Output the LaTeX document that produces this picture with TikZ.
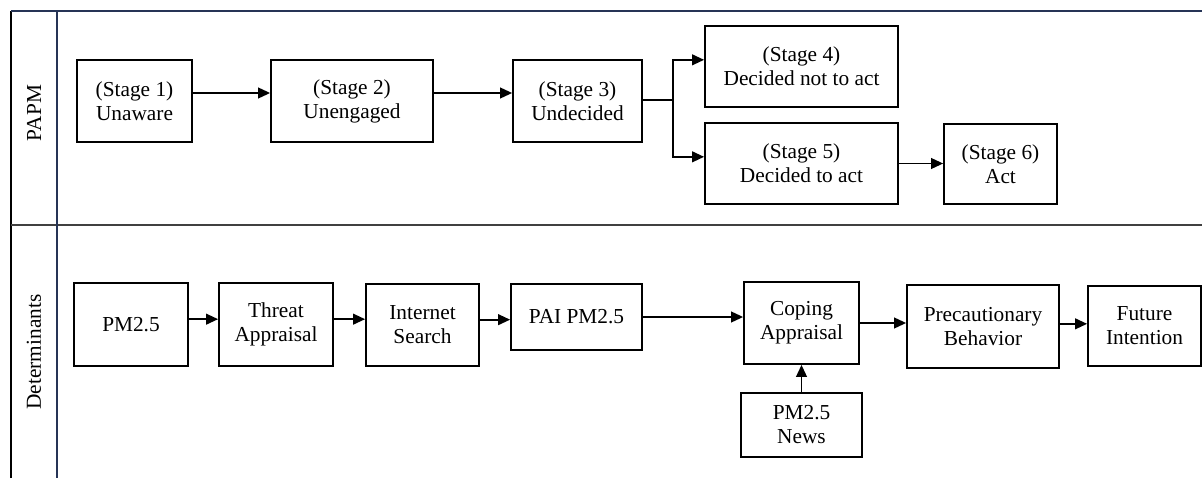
\documentclass[tikz,border=0pt]{standalone}
\usepackage{fontspec}
\setmainfont{Liberation Serif}
\usetikzlibrary{arrows.meta}

\definecolor{lanenavy}{RGB}{38,52,86}
\definecolor{lanegray}{RGB}{64,64,64}

\begin{document}
\begin{tikzpicture}[x=0.75pt,y=-0.75pt,
  box/.style={rectangle,draw,line width=1.3pt,align=center,inner sep=2pt,font=\fontsize{16}{18}\selectfont},
  link/.style={line width=1.4pt,->},
  lane/.style={rotate=90,font=\fontsize{16}{18}\selectfont},
  >={Triangle[length=9pt,width=8pt]}]
\useasboundingbox (0,0) rectangle (1202,478);
% swimlanes
\draw[black,line width=0.8pt] (11,478) -- (11,11);
\draw[lanenavy,line width=1.2pt] (11,11) -- (1202,11);
\draw[lanegray,line width=1.6pt] (11,225) -- (1202,225);
\draw[lanenavy,line width=1.6pt] (57,11) -- (57,478);
\path (34,113) node(papm) [lane] {PAPM}
(34,352) node(det) [lane] {Determinants};
% PAPM stages
\path (134.5,101) node(s1) [box,minimum width=86.25pt,minimum height=61.5pt] {(Stage 1)\\Unaware}
(352,101) node(s2) [box,minimum width=121.5pt,minimum height=61.5pt] {(Stage 2)\\Unengaged}
(577.5,101) node(s3) [box,minimum width=96.75pt,minimum height=61.5pt] {(Stage 3)\\Undecided}
(801.5,66.5) node(s4) [box,minimum width=144.75pt,minimum height=60.75pt] {(Stage 4)\\Decided not to act}
(801.5,163.5) node(s5) [box,minimum width=144.75pt,minimum height=60.75pt] {(Stage 5)\\Decided to act}
(1000.5,164) node(s6) [box,minimum width=84.75pt,minimum height=60pt] {(Stage 6)\\Act};
\coordinate (br) at (673,100);
\draw[link] ([yshift=6pt]s1.east) -- ([yshift=6pt]s2.west);
\draw[link] ([yshift=6pt]s2.east) -- ([yshift=6pt]s3.west);
\draw[link] (s3.east |- br) -- (br) |- ([yshift=5pt]s4.west);
\draw[link] (br) |- ([yshift=5pt]s5.west);
\draw[link] (s5.east) -- (s5.east -| s6.west);
% determinants
\path (131,324.5) node(pm) [box,minimum width=85.5pt,minimum height=62.25pt] {PM2.5}
(276,324.5) node(ta) [box,minimum width=85.5pt,minimum height=62.25pt] {Threat\\Appraisal}
(422.5,325) node(is) [box,minimum width=84.75pt,minimum height=61.5pt] {Internet\\Search}
(576.5,317) node(pai) [box,minimum width=98.25pt,minimum height=49.5pt] {PAI PM2.5}
(801.5,323) node(ca) [box,minimum width=86.25pt,minimum height=61.5pt] {Coping\\Appraisal}
(801.5,425) node(news) [box,minimum width=90.75pt,minimum height=48pt] {PM2.5\\News}
(983,326.5) node(pb) [box,minimum width=114pt,minimum height=62.25pt] {Precautionary\\Behavior}
(1144.5,326) node(fi) [box,minimum width=84.75pt,minimum height=60pt] {Future\\Intention};
\draw[link] ([yshift=4pt]pm.east) -- ([yshift=4pt]pm.east -| ta.west);
\draw[link] ([yshift=4pt]ta.east) -- ([yshift=4pt]ta.east -| is.west);
\draw[link] ([yshift=4pt]is.east) -- ([yshift=4pt]is.east -| pai.west);
\draw[link] (pai.east) -- (pai.east -| ca.west);
\draw[link] (ca.east) -- (ca.east -| pb.west);
\draw[link] ([yshift=2pt]pb.east) -- ([yshift=2pt]pb.east -| fi.west);
\draw[link] (news.north) -- (ca.south);
\end{tikzpicture}
\end{document}
